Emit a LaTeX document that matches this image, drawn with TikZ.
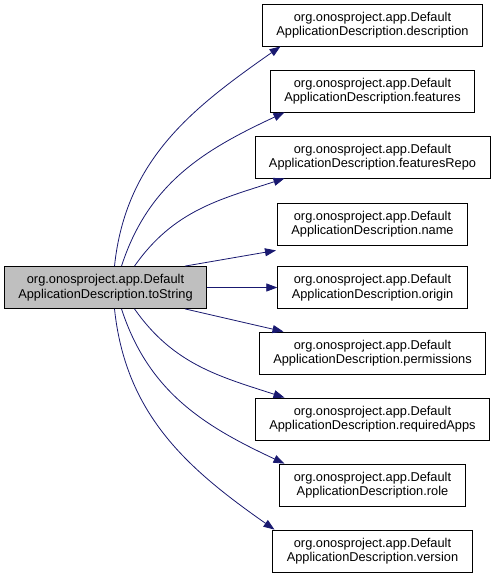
\documentclass[tikz,border=0pt]{standalone}
\usepackage{fontspec}
\setmainfont{Liberation Sans}
\definecolor{EdgeBlue}{RGB}{25,25,112}
\definecolor{BoxGray}{RGB}{191,191,191}
\usetikzlibrary{arrows.meta}

\begin{document}
\begin{tikzpicture}[x=1pt, y=-1pt,
    member/.style={draw=black, line width=0.8pt, fill=white, align=center, minimum height=42pt, inner xsep=14pt, font=\fontsize{12.8}{14.5}\selectfont},
    call/.style={draw=EdgeBlue, line width=0.8pt, -{Triangle[length=11pt, width=8pt]}}]
        \useasboundingbox (0, 0) rectangle (496, 573);
        % caller
        \node[member, fill=BoxGray] (ts) at (105.5, 287.5) {org.onosproject.app.Default\\ApplicationDescription.toString};
        % callees
        \node[member] (desc) at (372.5, 25) {org.onosproject.app.Default\\ApplicationDescription.description};
        \node[member] (feat) at (372.5, 91) {org.onosproject.app.Default\\ApplicationDescription.features};
        \node[member] (frepo) at (372.5, 157) {org.onosproject.app.Default\\ApplicationDescription.featuresRepo};
        \node[member] (nm) at (372.5, 224) {org.onosproject.app.Default\\ApplicationDescription.name};
        \node[member] (orig) at (372.5, 287.5) {org.onosproject.app.Default\\ApplicationDescription.origin};
        \node[member] (perm) at (372.5, 353) {org.onosproject.app.Default\\ApplicationDescription.permissions};
        \node[member] (reqapps) at (372.5, 419) {org.onosproject.app.Default\\ApplicationDescription.requiredApps};
        \node[member] (role) at (372.5, 485) {org.onosproject.app.Default\\ApplicationDescription.role};
        \node[member] (ver) at (372.5, 551) {org.onosproject.app.Default\\ApplicationDescription.version};
        % calls
        \draw[call] ([xshift=9pt]ts.north) to[out=84, in=215] ([xshift=-92pt]desc.south);
        \draw[call] ([xshift=16pt]ts.north) to[out=72, in=205] ([xshift=-88pt]feat.south);
        \draw[call] ([xshift=29pt]ts.north) to[out=55, in=198] ([xshift=-88pt]frepo.south);
        \draw[call] ([xshift=-22pt]ts.north east) -- ([xshift=-1pt, yshift=-5pt]nm.south west);
        \draw[call] (ts.east) -- (orig.west);
        \draw[call] ([xshift=-22pt]ts.south east) -- ([xshift=-89pt]perm.north);
        \draw[call] ([xshift=29pt]ts.south) to[out=-55, in=162] ([xshift=-88pt]reqapps.north);
        \draw[call] ([xshift=16pt]ts.south) to[out=-72, in=155] ([xshift=-88pt]role.north);
        \draw[call] ([xshift=9pt]ts.south) to[out=-84, in=145] ([xshift=-98pt]ver.north);
    \end{tikzpicture}
\end{document}
